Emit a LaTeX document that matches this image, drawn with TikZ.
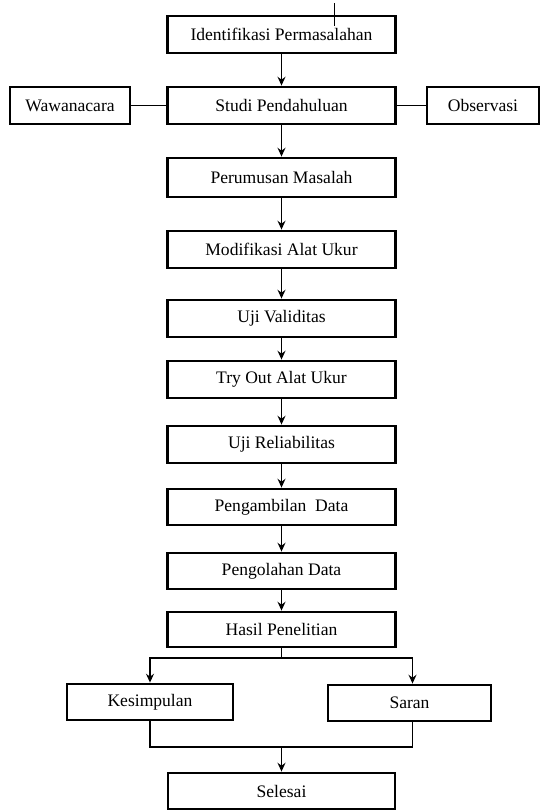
\documentclass[tikz,border=0pt]{standalone}
\usepackage{fontspec}
\setmainfont{Liberation Serif}
\usepackage{tikz}
\usetikzlibrary{arrows.meta,positioning}

\begin{document}
\begin{tikzpicture}[x=0.02cm,y=-0.02cm,
    every node/.style={font=\fontsize{10}{12}\selectfont},
    box/.style={draw,line width=1.6pt,minimum width=4.56cm,
                minimum height=0.74cm,align=center,inner sep=0pt},
    arr/.style={-{Stealth[length=5pt,width=4.5pt]},line width=1.1pt},
    lnk/.style={line width=1.1pt}]

  \useasboundingbox (0,0) rectangle (541,812);

  \node[box]                                     (idf) at (281.5, 34.5) {Identifikasi Permasalahan};
  \node[box]                                     (std) at (281.5,105.5) {Studi Pendahuluan};
  \node[box,minimum width=2.4cm]                 (wwc) at ( 70,105.5) {Wawanacara};
  \node[box,minimum width=2.24cm]                (obs) at (483,105.5) {Observasi};

  \node[box,minimum height=0.78cm]               (prm) at (281.5,177.5) {Perumusan Masalah};
  \node[box]                                     (mod) at (281.5,249.5) {Modifikasi Alat Ukur};
  \node[box]                                     (val) at (281.5,318.5) {Uji Validitas};
  \node[box]                                     (try) at (281.5,379.5) {Try Out Alat Ukur};
  \node[box]                                     (rel) at (281.5,444.5) {Uji Reliabilitas};
  \node[box,minimum height=0.72cm]               (amb) at (281.5,507.0) {Pengambilan\ \ Data};
  \node[box,minimum height=0.72cm]               (olh) at (281.5,571.0) {Pengolahan Data};
  \node[box,minimum height=0.70cm]               (hsl) at (281.5,629.5) {Hasil Penelitian};

  \node[box,minimum width=3.32cm,minimum height=0.72cm] (ksm) at (150,702.0) {Kesimpulan};
  \node[box,minimum width=3.26cm,minimum height=0.72cm] (srn) at (409.5,703.0) {Saran};

  \node[box,minimum width=4.54cm,minimum height=0.72cm] (sls) at (281.5,791.0) {Selesai};

  \coordinate (br)   at (281.5,658);
  \coordinate (mg)   at (281.5,747);
  \coordinate (tick) at (334,3);

  \draw[line width=0.4pt] (tick) -- ++(0,23);

  \draw[arr] (idf) -- (std);
  \draw[lnk] (wwc) -- (std);
  \draw[lnk] (std) -- (obs);
  \draw[arr] (std) -- (prm);
  \draw[arr] (prm) -- (mod);
  \draw[arr] (mod) -- (val);
  \draw[arr] (val) -- (try);
  \draw[arr] (try) -- (rel);
  \draw[arr] (rel) -- (amb);
  \draw[arr] (amb) -- (olh);
  \draw[arr] (olh) -- (hsl);

  \draw[lnk] (hsl.south) -- (br);
  \draw[arr] (br) -| (ksm.north);
  \draw[arr] (br) -| ([xshift=0.06cm]srn.north);
  \draw[lnk] (ksm.south) |- (mg) -| ([xshift=0.06cm]srn.south);
  \draw[arr] (mg) -- (sls);
\end{tikzpicture}
\end{document}
